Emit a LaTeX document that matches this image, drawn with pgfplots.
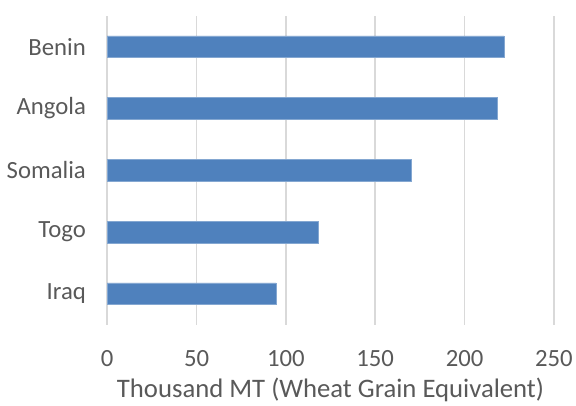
\documentclass[border=0pt]{standalone}
\usepackage{fontspec}
\setmainfont{Carlito}
\usepackage{pgfplots}
\pgfplotsset{compat=1.18}
\definecolor{barblue}{HTML}{4F81BD}
\definecolor{gridgrey}{HTML}{D9D9D9}
\definecolor{txtgrey}{HTML}{595959}

\begin{document}
\begin{tikzpicture}
\begin{axis}[
  name=ax,
  scale only axis,
  width=450bp, height=311bp,
  xbar,
  bar width=21.7bp,
  xmin=0, xmax=250,
  ymin=-0.5, ymax=4.5,
  xtick={0,50,...,250},
  ytick={0,1,2,3,4},
  yticklabels={Iraq,Togo,Somalia,Angola,Benin},
  axis line style={draw=none},
  major tick length=0pt,
  xmajorgrids,
  grid style={gridgrey, line width=1.5bp},
  tick label style={font=\fontsize{25}{28}\selectfont, text=txtgrey},
  /pgf/number format/assume math mode=true,
  xticklabel style={yshift=-23bp},
  yticklabel style={xshift=-18bp},
  xlabel={Thousand MT (Wheat Grain Equivalent)},
  xlabel style={font=\fontsize{27}{30}\selectfont, text=txtgrey, yshift=-4bp},
  clip=false,
]
\addplot[fill=barblue, draw=barblue!70!white, line width=0.5bp]
  coordinates {(94.4,0) (118.2,1) (170.0,2) (218.5,3) (222.0,4)};
\end{axis}
\path[use as bounding box] ([xshift=-108bp,yshift=-73bp]ax.south west) rectangle ([xshift=18bp,yshift=16bp]ax.north east);
\end{tikzpicture}
\end{document}
